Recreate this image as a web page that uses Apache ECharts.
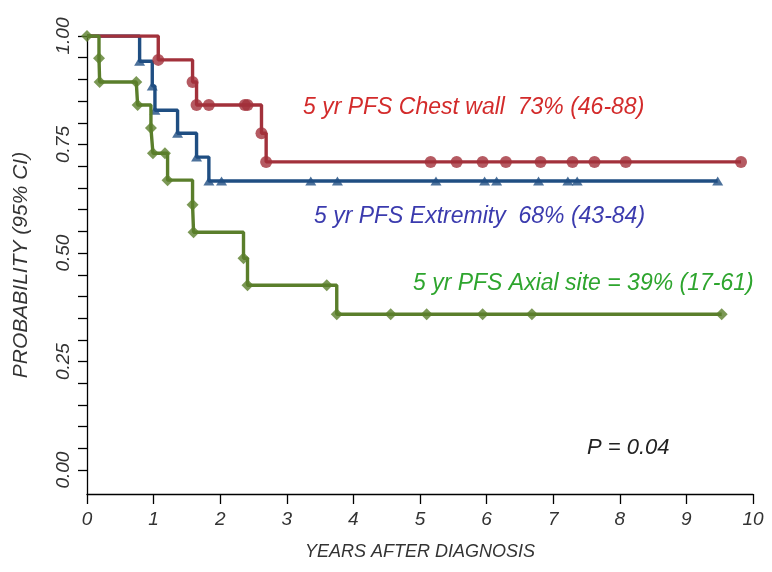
<!DOCTYPE html>
<html>
<head>
<meta charset="utf-8">
<script src="https://cdn.jsdelivr.net/npm/echarts@6/dist/echarts.min.js"></script>
<style>
html,body{margin:0;padding:0;background:#fff;}
#c{width:772px;height:572px;}
</style>
</head>
<body>
<div id="c"></div>
<script>
// ---- data ----
var xTicks = [0,1,2,3,4,5,6,7,8,9,10];
var yTickValues = [0,0.05,0.1,0.15,0.2,0.25,0.3,0.35,0.4,0.45,0.5,0.55,0.6,0.65,0.7,0.75,0.8,0.85,0.9,0.95,1];
var yLabelValues = [0,0.25,0.5,0.75,1];

// Chest wall (red, circles)
var chestT = [0, 1.07, 1.585, 1.645, 1.83, 2.37, 2.41, 2.62, 2.69, 5.16, 5.55, 5.94, 6.29, 6.81, 7.29, 7.62, 8.09, 9.82];
var chestS = [1, 0.945, 0.894, 0.841, 0.841, 0.841, 0.841, 0.776, 0.710, 0.710, 0.710, 0.710, 0.710, 0.710, 0.710, 0.710, 0.710, 0.710];

// Extremity (blue, triangles)
var extT = [0, 0.79, 0.98, 1.02, 1.36, 1.645, 1.83, 2.02, 3.36, 3.76, 5.24, 5.97, 6.15, 6.78, 7.22, 7.36, 9.47];
var extS = [1, 0.942, 0.885, 0.829, 0.776, 0.721, 0.666, 0.666, 0.666, 0.666, 0.666, 0.666, 0.666, 0.666, 0.666, 0.666, 0.666];

// Axial site (green, diamonds)
var axT = [0, 0.18, 0.19, 0.74, 0.76, 0.96, 0.99, 1.17, 1.21, 1.585, 1.60, 2.35, 2.41, 3.60, 3.75, 4.56, 5.10, 5.94, 6.68, 9.53];
var axS = [1, 0.949, 0.894, 0.894, 0.841, 0.788, 0.730, 0.730, 0.668, 0.611, 0.548, 0.488, 0.426, 0.426, 0.359, 0.359, 0.359, 0.359, 0.359, 0.359];

var labels = {
  chest: '5 yr PFS Chest wall  73% (46-88)',
  ext: '5 yr PFS Extremity  68% (43-84)',
  axial: '5 yr PFS Axial site = 39% (17-61)',
  p: 'P = 0.04'
};

// ---- chart ----
var FONT = '"Liberation Sans", Arial, sans-serif';
function pts(t, s, from) {
  var out = [];
  for (var i = from || 0; i < t.length; i++) out.push([t[i], s[i]]);
  return out;
}
var cRed = '#A2313B', cBlue = '#1F4E82', cGreen = '#5A7E2B';

var chart = echarts.init(document.getElementById('c'), null, {renderer: 'canvas'});
chart.setOption({
  animation: false,
  backgroundColor: '#fff',
  grid: {left: 87, right: 19, top: 36, bottom: 78},
  xAxis: {
    type: 'value', min: 0, max: 10, interval: 1,
    axisLine: {show: true, onZero: false, lineStyle: {color: '#000', width: 1.3}},
    axisTick: {show: true, length: 10, lineStyle: {color: '#000', width: 1.3}},
    splitLine: {show: false},
    axisLabel: {fontFamily: FONT, fontStyle: 'italic', fontSize: 19, color: '#333', margin: 16},
    name: 'YEARS AFTER DIAGNOSIS', nameLocation: 'middle', nameGap: 49,
    nameTextStyle: {fontFamily: FONT, fontStyle: 'italic', fontSize: 18, color: '#333'}
  },
  yAxis: {
    type: 'value', min: -0.055, max: 1,
    axisLine: {show: true, onZero: false, lineStyle: {color: '#000', width: 1.3}},
    axisTick: {show: true, length: 9, customValues: yTickValues, lineStyle: {color: '#000', width: 1.3}},
    splitLine: {show: false},
    axisLabel: {
      customValues: yLabelValues, rotate: 90, margin: 14,
      fontFamily: FONT, fontStyle: 'italic', fontSize: 19, color: '#333',
      formatter: function (v) { return v.toFixed(2); }
    },
    name: 'PROBABILITY (95% CI)', nameLocation: 'middle', nameGap: 55,
    nameTextStyle: {fontFamily: FONT, fontStyle: 'italic', fontSize: 21, color: '#333'}
  },
  series: [
    {type: 'line', step: 'end', data: pts(extT, extS), showSymbol: false, z: 2,
     lineStyle: {color: cBlue, width: 3.4}, itemStyle: {color: cBlue}},
    {type: 'scatter', data: pts(extT, extS, 1), symbol: 'triangle', symbolSize: [11, 9], z: 3,
     itemStyle: {color: cBlue}},
    {type: 'line', step: 'end', data: pts(chestT, chestS), showSymbol: false, z: 4,
     lineStyle: {color: cRed, width: 3.4}, itemStyle: {color: cRed}},
    {type: 'scatter', data: pts(chestT, chestS, 1), symbol: 'circle', symbolSize: 12, z: 5,
     itemStyle: {color: cRed}},
    {type: 'line', step: 'end', data: pts(axT, axS), showSymbol: false, z: 6,
     lineStyle: {color: cGreen, width: 3.4}, itemStyle: {color: cGreen}},
    {type: 'scatter', data: pts(axT, axS, 0), symbol: 'diamond', symbolSize: 12, z: 7,
     itemStyle: {color: cGreen}}
  ],
  graphic: [
    {type: 'text', x: 303, y: 108, style: {text: labels.chest, fill: '#D32B2B', font: 'italic 23px ' + FONT, textVerticalAlign: 'middle'}},
    {type: 'text', x: 314, y: 217, style: {text: labels.ext, fill: '#3B3BAE', font: 'italic 23px ' + FONT, textVerticalAlign: 'middle'}},
    {type: 'text', x: 413, y: 284, style: {text: labels.axial, fill: '#2EA52E', font: 'italic 23px ' + FONT, textVerticalAlign: 'middle'}},
    {type: 'text', x: 587, y: 448, style: {text: labels.p, fill: '#222', font: 'italic 22px ' + FONT, textVerticalAlign: 'middle'}}
  ]
});
</script>
</body>
</html>
